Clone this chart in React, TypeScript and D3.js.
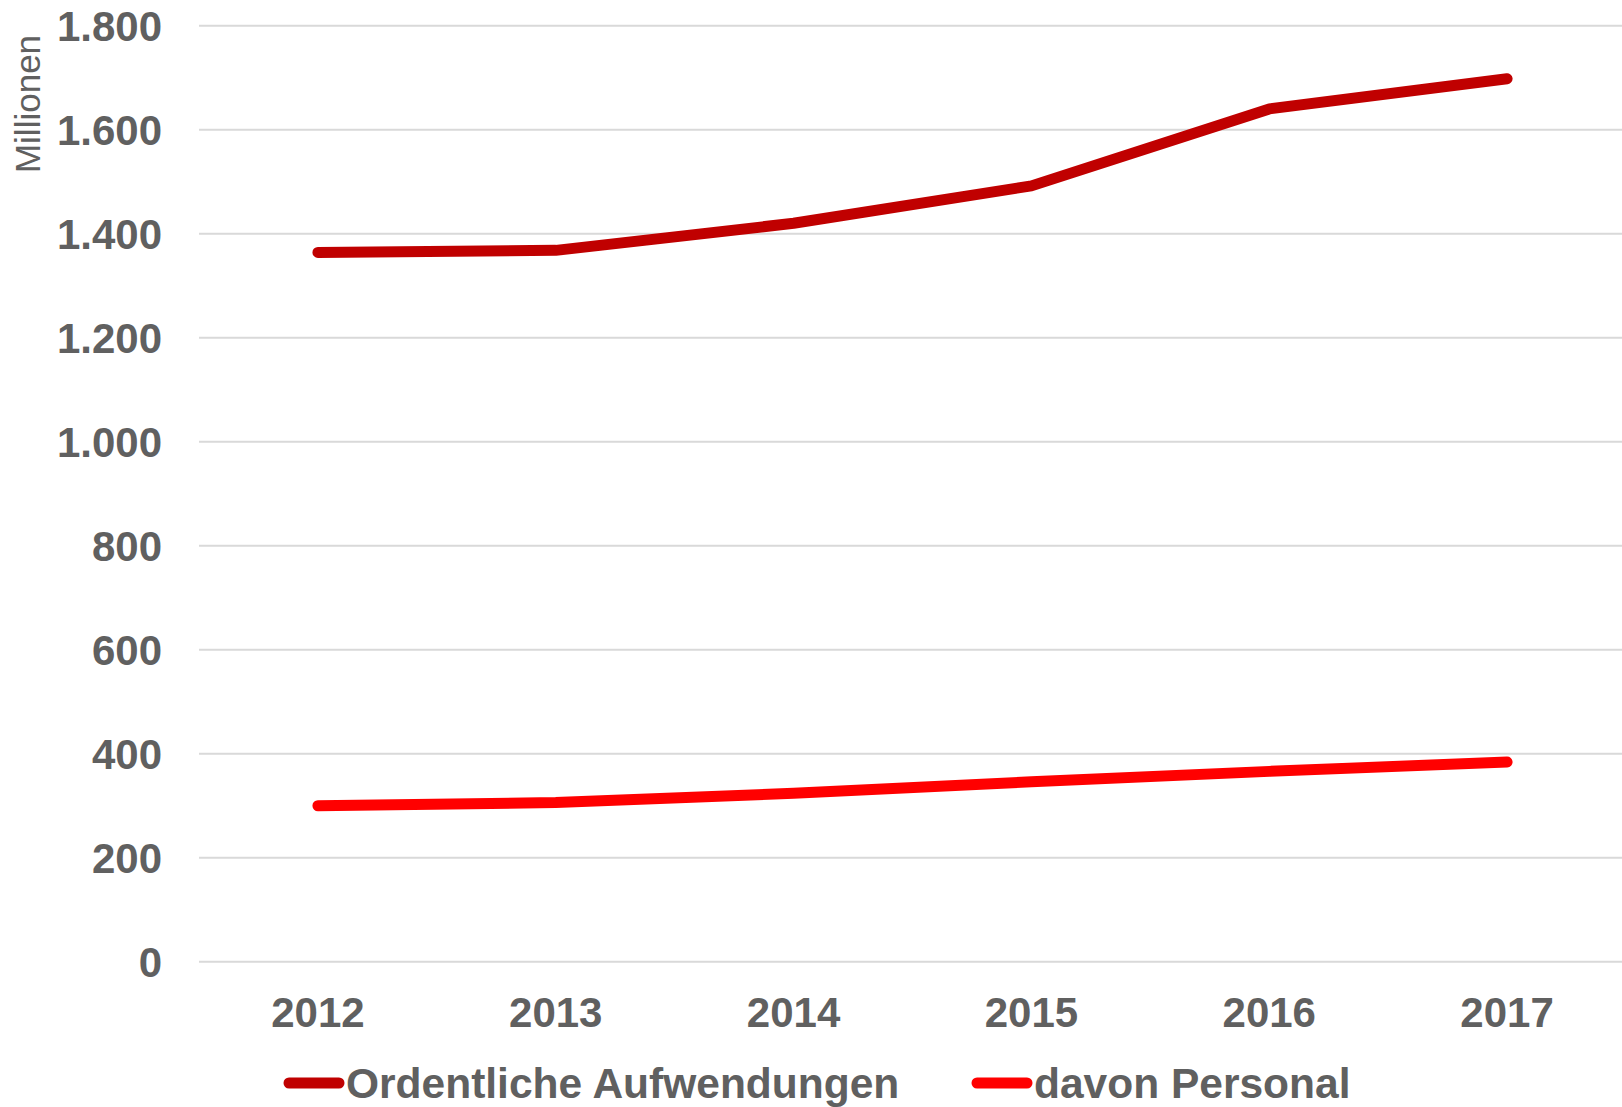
import React, { useEffect, useRef } from 'react';
import * as d3 from 'd3';

const years = ['2012', '2013', '2014', '2015', '2016', '2017'];
const aufwendungen = [1364, 1368, 1420, 1492, 1640, 1698];
const personal = [300, 306, 324, 346, 366, 384];
const yTicks = [0, 200, 400, 600, 800, 1000, 1200, 1400, 1600, 1800];
const seriesNames = ['Ordentliche Aufwendungen', 'davon Personal'];
const seriesColors = ['#C00000', '#FF0000'];

const W = 1622;
const H = 1107;
const FONT = '"Liberation Sans", Arial, sans-serif';
const GREY = '#606060';

const fmt = (v: number) => d3.format(',')(v).replace(/,/g, '.');

const drawChart = (el: SVGSVGElement) => {
  const svg = d3.select(el);
  svg.selectAll('*').remove();

  // scales
  const x = d3.scalePoint<string>().domain(years).range([199, 1626]).padding(0.5);
  const y = d3.scaleLinear().domain([0, 1800]).range([961.7, 25.7]);

  // gridlines
  svg
    .append('g')
    .selectAll('line')
    .data(yTicks)
    .enter()
    .append('line')
    .attr('x1', 199)
    .attr('x2', W)
    .attr('y1', d => y(d))
    .attr('y2', d => y(d))
    .style('stroke', '#D9D9D9')
    .style('stroke-width', 2);

  // y tick labels
  svg
    .append('g')
    .selectAll('text')
    .data(yTicks)
    .enter()
    .append('text')
    .attr('x', 162)
    .attr('y', d => y(d) + 15)
    .attr('text-anchor', 'end')
    .style('font-family', FONT)
    .style('font-weight', 'bold')
    .style('font-size', '42px')
    .style('fill', GREY)
    .text(d => fmt(d));

  // unit label
  svg
    .append('text')
    .attr('transform', 'translate(40,104) rotate(-90)')
    .attr('text-anchor', 'middle')
    .style('font-family', FONT)
    .style('font-size', '35px')
    .style('fill', GREY)
    .text('Millionen');

  // x labels
  svg
    .append('g')
    .selectAll('text')
    .data(years)
    .enter()
    .append('text')
    .attr('x', d => x(d) as number)
    .attr('y', 1027)
    .attr('text-anchor', 'middle')
    .style('font-family', FONT)
    .style('font-weight', 'bold')
    .style('font-size', '42px')
    .style('fill', GREY)
    .text(d => d);

  // lines
  const line = d3
    .line<number>()
    .x((d, i) => x(years[i]) as number)
    .y(d => y(d));

  [aufwendungen, personal].forEach((vals, i) => {
    svg
      .append('path')
      .attr('d', line(vals))
      .style('fill', 'none')
      .style('stroke', seriesColors[i])
      .style('stroke-width', 11)
      .style('stroke-linecap', 'round')
      .style('stroke-linejoin', 'round');
  });

  // legend
  const legendX = [289, 977];
  seriesNames.forEach((name, i) => {
    const g = svg.append('g').attr('transform', `translate(${legendX[i]},1083)`);
    g.append('line')
      .attr('x1', 0)
      .attr('x2', 50)
      .attr('y1', 0)
      .attr('y2', 0)
      .style('stroke', seriesColors[i])
      .style('stroke-width', 11)
      .style('stroke-linecap', 'round');
    g.append('text')
      .attr('x', 57)
      .attr('y', 15)
      .style('font-family', FONT)
      .style('font-weight', 'bold')
      .style('font-size', '42.5px')
      .style('fill', GREY)
      .text(name);
  });
};

const App = () => {
  const ref = useRef<SVGSVGElement>(null);
  useEffect(() => {
    if (ref.current) drawChart(ref.current);
  });

  return (
    <svg
      ref={ref}
      width={W}
      height={H}
      style={{ position: 'absolute', left: 0, top: 0, background: '#fff', display: 'block' }}
    />
  );
};

export default App;
